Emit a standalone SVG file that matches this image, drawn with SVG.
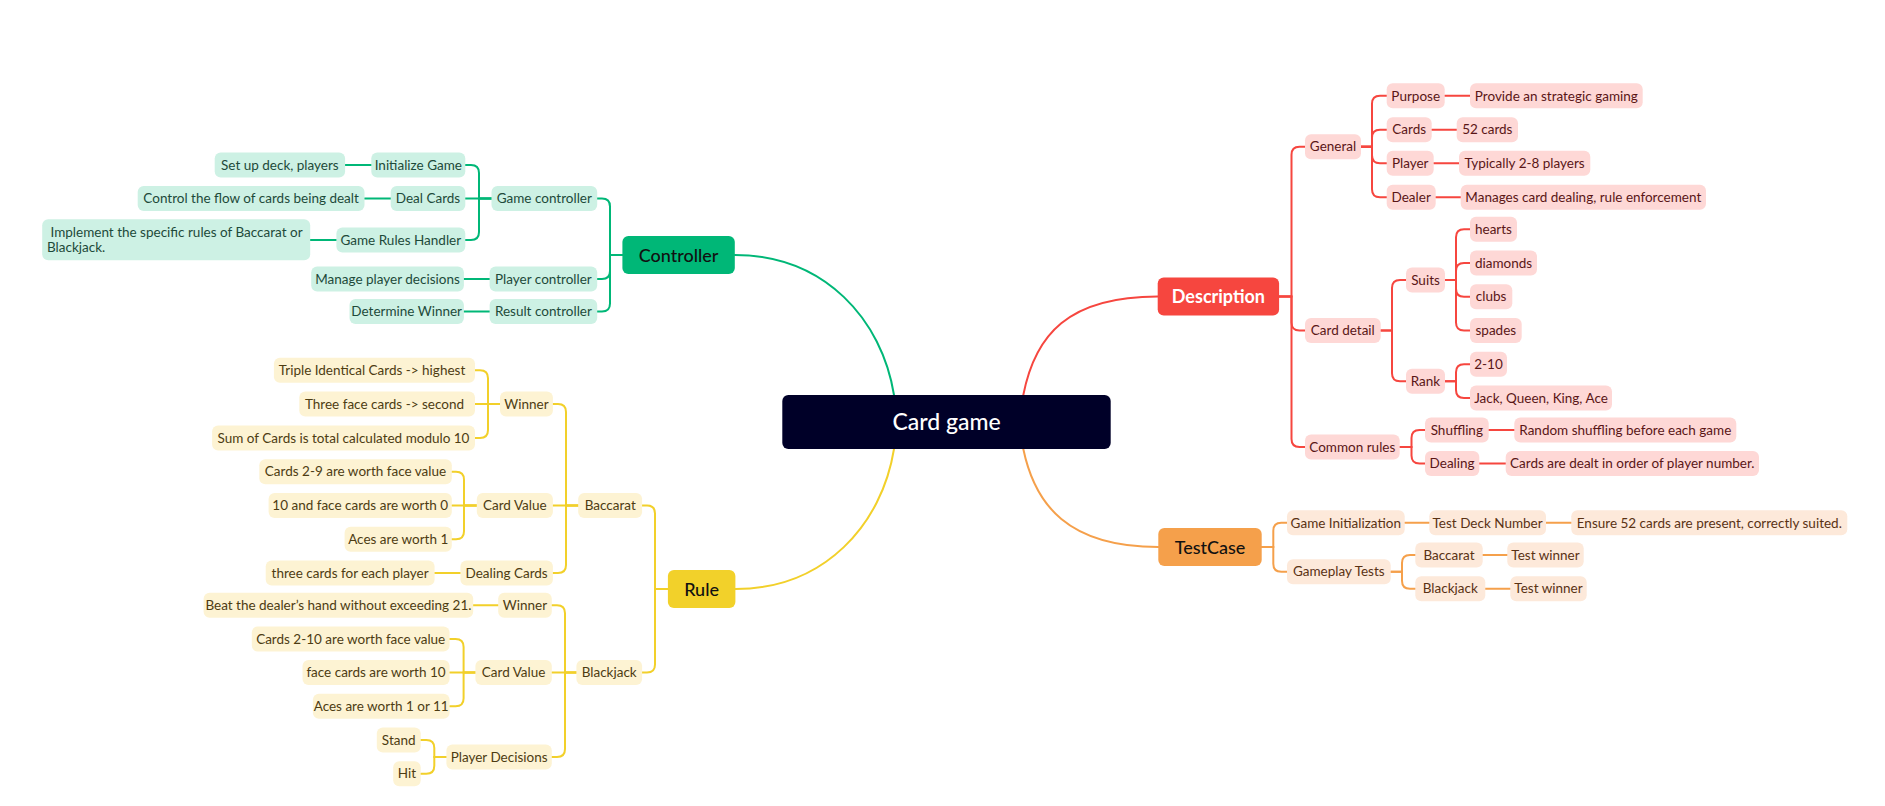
<svg xmlns="http://www.w3.org/2000/svg" width="1885" height="806" viewBox="0 0 1885 806">
<style>
text{font-family:Lato,"Open Sans","Liberation Sans",sans-serif;font-size:13.5px;text-anchor:middle}
.bg{fill:#cdf1e4}.tg{fill:#1d4a3a}
.br{fill:#fed8d6}.tr{fill:#5a1616}
.by{fill:#fdf3d3}.ty{fill:#4d3c12}
.bo{fill:#fde9da}.to{fill:#5a3214}
.main{font-size:18px;font-weight:500}
.cg{stroke:#00b777}.cr{stroke:#f6463f}.cy{stroke:#f2d02a}.co{stroke:#f5a04b}
#connectors path{fill:none;stroke-width:2;stroke-linecap:round}
</style>
<rect width="1885" height="806" fill="#ffffff"/>
<g id="connectors">
<path class="cg" d="M734.8,255 C825,255 882,320 894,395"/>
<path class="cy" d="M735.4,589 C825,589 882,524 894,449"/>
<path class="cr" d="M1157.7,296.4 C1068,296.4 1035,335 1023.3,395"/>
<path class="co" d="M1158.3,547 C1068,547 1035,505 1023.3,449"/>
<!-- red -->
<path class="cr" d="M1279,296.4 H1291.5 V154.7 Q1291.5,146.7 1299.5,146.7 H1305"/>
<path class="cr" d="M1279,296.4 H1291.5 V322.5 Q1291.5,330.5 1299.5,330.5 H1305"/>
<path class="cr" d="M1279,296.4 H1291.5 V439 Q1291.5,447 1299.5,447 H1305"/>
<path class="cr" d="M1361,146.7 H1372 V103.8 Q1372,95.8 1380,95.8 H1386.7"/>
<path class="cr" d="M1361,146.7 H1372 V137.7 Q1372,129.7 1380,129.7 H1386.7"/>
<path class="cr" d="M1361,146.7 H1372 V155.3 Q1372,163.3 1380,163.3 H1386.7"/>
<path class="cr" d="M1361,146.7 H1372 V189.2 Q1372,197.2 1380,197.2 H1386.7"/>
<path class="cr" d="M1444.7,95.8 H1470"/>
<path class="cr" d="M1431.7,129.7 H1456.7"/>
<path class="cr" d="M1433.7,163.3 H1459"/>
<path class="cr" d="M1435.7,197.2 H1460.7"/>
<path class="cr" d="M1380.7,330.5 H1392 V288 Q1392,280 1400,280 H1406"/>
<path class="cr" d="M1380.7,330.5 H1392 V373.3 Q1392,381.3 1400,381.3 H1406"/>
<path class="cr" d="M1445,280 H1456 V237.2 Q1456,229.2 1464,229.2 H1470"/>
<path class="cr" d="M1445,280 H1456 V271 Q1456,263 1464,263 H1470"/>
<path class="cr" d="M1445,280 H1456 V288.7 Q1456,296.7 1464,296.7 H1470"/>
<path class="cr" d="M1445,280 H1456 V322.5 Q1456,330.5 1464,330.5 H1470"/>
<path class="cr" d="M1445,381.3 H1456 V372.3 Q1456,364.3 1464,364.3 H1470"/>
<path class="cr" d="M1445,381.3 H1456 V390 Q1456,398 1464,398 H1470"/>
<path class="cr" d="M1399.7,447 H1411.5 V438 Q1411.5,430 1419.5,430 H1425"/>
<path class="cr" d="M1399.7,447 H1411.5 V455.5 Q1411.5,463.5 1419.5,463.5 H1425"/>
<path class="cr" d="M1488.7,430 H1514.3"/>
<path class="cr" d="M1479.3,463.5 H1505.7"/>
<!-- orange -->
<path class="co" d="M1261.7,547 H1273.3 V530.8 Q1273.3,522.8 1281.3,522.8 H1287"/>
<path class="co" d="M1261.7,547 H1273.3 V563.7 Q1273.3,571.7 1281.3,571.7 H1287"/>
<path class="co" d="M1404.7,522.8 H1429.3"/>
<path class="co" d="M1546,522.8 H1571.3"/>
<path class="co" d="M1390.7,571.7 H1402 V563 Q1402,555 1410,555 H1415.3"/>
<path class="co" d="M1390.7,571.7 H1402 V580.7 Q1402,588.7 1410,588.7 H1415.3"/>
<path class="co" d="M1482.7,555 H1507.3"/>
<path class="co" d="M1485.3,588.7 H1510.3"/>
<!-- green -->
<path class="cg" d="M622.4,255 H610 V206.5 Q610,198.5 602,198.5 H597.2"/>
<path class="cg" d="M622.4,255 H610 V271 Q610,279 602,279 H597.2"/>
<path class="cg" d="M622.4,255 H610 V303.5 Q610,311.5 602,311.5 H597.2"/>
<path class="cg" d="M491.5,198.5 H479 V173 Q479,165 471,165 H465.3"/>
<path class="cg" d="M491.5,198.5 H465.3"/>
<path class="cg" d="M491.5,198.5 H479 V232 Q479,240 471,240 H465.3"/>
<path class="cg" d="M371.3,165 H345.1"/>
<path class="cg" d="M390.7,198.5 H364.5"/>
<path class="cg" d="M336.4,240 H310.2"/>
<path class="cg" d="M489.6,279 H463.9"/>
<path class="cg" d="M489.6,311.5 H463.9"/>
<!-- yellow -->
<path class="cy" d="M667.9,589 H655 V513.5 Q655,505.5 647,505.5 H642.1"/>
<path class="cy" d="M667.9,589 H655 V664.5 Q655,672.5 647,672.5 H642.1"/>
<path class="cy" d="M578.2,505.5 H566 V412 Q566,404 558,404 H552.9"/>
<path class="cy" d="M578.2,505.5 H552.9"/>
<path class="cy" d="M578.2,505.5 H566 V565 Q566,573 558,573 H552.9"/>
<path class="cy" d="M500,404 H488 V378.3 Q488,370.3 480,370.3 H475"/>
<path class="cy" d="M500,404 H475"/>
<path class="cy" d="M500,404 H488 V430 Q488,438 480,438 H475"/>
<path class="cy" d="M476.8,505.5 H464 V479.7 Q464,471.7 456,471.7 H451.8"/>
<path class="cy" d="M476.8,505.5 H451.8"/>
<path class="cy" d="M476.8,505.5 H464 V531.3 Q464,539.3 456,539.3 H451.8"/>
<path class="cy" d="M460.4,573 H434.6"/>
<path class="cy" d="M576.4,672.5 H565 V613.2 Q565,605.2 557,605.2 H551.8"/>
<path class="cy" d="M576.4,672.5 H551.8"/>
<path class="cy" d="M576.4,672.5 H565 V749 Q565,757 557,757 H551.8"/>
<path class="cy" d="M498.2,605.2 H473.2"/>
<path class="cy" d="M475.4,672.5 H463.6 V647 Q463.6,639 455.6,639 H449.6"/>
<path class="cy" d="M475.4,672.5 H449.6"/>
<path class="cy" d="M475.4,672.5 H463.6 V698.3 Q463.6,706.3 455.6,706.3 H449.6"/>
<path class="cy" d="M446.4,757 H434.3 V748 Q434.3,740 426.3,740 H420.7"/>
<path class="cy" d="M446.4,757 H434.3 V765.7 Q434.3,773.7 426.3,773.7 H420.7"/>
</g>

<g id="n-root"><rect x="782.3" y="395" width="328.4" height="54" rx="6" fill="#000028"/><text x="946.5" y="430" fill="#ffffff" style="font-size:23px;font-weight:500">Card game</text></g>
<g id="n-controller"><rect x="622.4" y="236" width="112.4" height="38" rx="6" fill="#00b777"/><text class="main" x="678.6" y="261.5" fill="#111111">Controller</text></g>
<g id="n-rule"><rect x="667.9" y="570" width="67.5" height="38" rx="6" fill="#f2d12a"/><text class="main" x="701.6" y="595.5" fill="#111111">Rule</text></g>
<g id="n-description"><rect x="1157.7" y="277.5" width="121.4" height="38" rx="6" fill="#f6463f"/><text class="main" x="1218.4" y="302.5" fill="#ffffff" style="font-weight:700">Description</text></g>
<g id="n-testcase"><rect x="1158.3" y="528" width="103.4" height="38" rx="6" fill="#f5a04b"/><text class="main" x="1210" y="553.5" fill="#111111">TestCase</text></g>

<!-- Description subtree -->
<g id="n-general"><rect class="br" x="1305" y="134.2" width="56" height="25" rx="6"/><text class="tr" x="1333" y="151.4">General</text></g>
<g id="n-purpose"><rect class="br" x="1386.7" y="83.3" width="58" height="25" rx="6"/><text class="tr" x="1415.7" y="100.5">Purpose</text></g>
<g id="n-purpose-v"><rect class="br" x="1470" y="83.3" width="172.7" height="25" rx="6"/><text class="tr" x="1556.3" y="100.5">Provide an strategic gaming</text></g>
<g id="n-cards"><rect class="br" x="1386.7" y="117.2" width="45" height="25" rx="6"/><text class="tr" x="1409.2" y="134.4">Cards</text></g>
<g id="n-cards-v"><rect class="br" x="1456.7" y="117.2" width="61.3" height="25" rx="6"/><text class="tr" x="1487.3" y="134.4">52 cards</text></g>
<g id="n-player"><rect class="br" x="1386.7" y="150.8" width="47" height="25" rx="6"/><text class="tr" x="1410.2" y="168">Player</text></g>
<g id="n-player-v"><rect class="br" x="1459" y="150.8" width="131.3" height="25" rx="6"/><text class="tr" x="1524.6" y="168">Typically 2-8 players</text></g>
<g id="n-dealer"><rect class="br" x="1386.7" y="184.7" width="49" height="25" rx="6"/><text class="tr" x="1411.2" y="201.9">Dealer</text></g>
<g id="n-dealer-v"><rect class="br" x="1460.7" y="184.7" width="245.3" height="25" rx="6"/><text class="tr" x="1583.3" y="201.9">Manages card dealing, rule enforcement</text></g>
<g id="n-carddetail"><rect class="br" x="1305" y="318" width="75.7" height="25" rx="6"/><text class="tr" x="1342.8" y="335.2">Card detail</text></g>
<g id="n-suits"><rect class="br" x="1406" y="267.5" width="39" height="25" rx="6"/><text class="tr" x="1425.5" y="284.7">Suits</text></g>
<g id="n-hearts"><rect class="br" x="1470" y="216.7" width="47" height="25" rx="6"/><text class="tr" x="1493.5" y="233.9">hearts</text></g>
<g id="n-diamonds"><rect class="br" x="1470" y="250.5" width="67" height="25" rx="6"/><text class="tr" x="1503.5" y="267.7">diamonds</text></g>
<g id="n-clubs"><rect class="br" x="1470" y="284.2" width="42.3" height="25" rx="6"/><text class="tr" x="1491.1" y="301.4">clubs</text></g>
<g id="n-spades"><rect class="br" x="1470" y="318" width="51.7" height="25" rx="6"/><text class="tr" x="1495.8" y="335.2">spades</text></g>
<g id="n-rank"><rect class="br" x="1406" y="368.8" width="39" height="25" rx="6"/><text class="tr" x="1425.5" y="386">Rank</text></g>
<g id="n-rank-num"><rect class="br" x="1470" y="351.8" width="37" height="25" rx="6"/><text class="tr" x="1488.5" y="369">2-10</text></g>
<g id="n-rank-face"><rect class="br" x="1470" y="385.5" width="142" height="25" rx="6"/><text class="tr" x="1541" y="402.7">Jack, Queen, King, Ace</text></g>
<g id="n-commonrules"><rect class="br" x="1305" y="434.5" width="94.7" height="25" rx="6"/><text class="tr" x="1352.3" y="451.7">Common rules</text></g>
<g id="n-shuffling"><rect class="br" x="1425" y="417.5" width="63.7" height="25" rx="6"/><text class="tr" x="1456.8" y="434.7">Shuffling</text></g>
<g id="n-shuffling-v"><rect class="br" x="1514.3" y="417.5" width="222" height="25" rx="6"/><text class="tr" x="1625.3" y="434.7">Random shuffling before each game</text></g>
<g id="n-dealing"><rect class="br" x="1425" y="451" width="54.3" height="25" rx="6"/><text class="tr" x="1452.1" y="468.2">Dealing</text></g>
<g id="n-dealing-v"><rect class="br" x="1505.7" y="451" width="253.3" height="25" rx="6"/><text class="tr" x="1632.3" y="468.2">Cards are dealt in order of player number.</text></g>

<!-- TestCase subtree -->
<g id="n-gameinit"><rect class="bo" x="1287" y="510.3" width="117.7" height="25" rx="6"/><text class="to" x="1345.8" y="527.5">Game Initialization</text></g>
<g id="n-testdeck"><rect class="bo" x="1429.3" y="510.3" width="116.7" height="25" rx="6"/><text class="to" x="1487.6" y="527.5">Test Deck Number</text></g>
<g id="n-ensure"><rect class="bo" x="1571.3" y="510.3" width="276" height="25" rx="6"/><text class="to" x="1709.3" y="527.5">Ensure 52 cards are present, correctly suited.</text></g>
<g id="n-gameplay"><rect class="bo" x="1287" y="559.2" width="103.7" height="25" rx="6"/><text class="to" x="1338.8" y="576.4">Gameplay Tests</text></g>
<g id="n-tc-baccarat"><rect class="bo" x="1415.3" y="542.5" width="67.4" height="25" rx="6"/><text class="to" x="1449" y="559.7">Baccarat</text></g>
<g id="n-tc-baccarat-w"><rect class="bo" x="1507.3" y="542.5" width="76.4" height="25" rx="6"/><text class="to" x="1545.5" y="559.7">Test winner</text></g>
<g id="n-tc-blackjack"><rect class="bo" x="1415.3" y="576.2" width="70" height="25" rx="6"/><text class="to" x="1450.3" y="593.4">Blackjack</text></g>
<g id="n-tc-blackjack-w"><rect class="bo" x="1510.3" y="576.2" width="76.4" height="25" rx="6"/><text class="to" x="1548.5" y="593.4">Test winner</text></g>

<!-- Controller subtree -->
<g id="n-gamecontroller"><rect class="bg" x="491.5" y="186" width="105.7" height="25" rx="6"/><text class="tg" x="544.3" y="203.2">Game controller</text></g>
<g id="n-initgame"><rect class="bg" x="371.3" y="152.5" width="94" height="25" rx="6"/><text class="tg" x="418.3" y="169.7">Initialize Game</text></g>
<g id="n-initgame-v"><rect class="bg" x="214.7" y="152.5" width="130.4" height="25" rx="6"/><text class="tg" x="279.9" y="169.7">Set up deck, players</text></g>
<g id="n-dealcards"><rect class="bg" x="390.7" y="186" width="74.6" height="25" rx="6"/><text class="tg" x="428" y="203.2">Deal Cards</text></g>
<g id="n-dealcards-v"><rect class="bg" x="137.7" y="186" width="226.8" height="25" rx="6"/><text class="tg" x="251.1" y="203.2">Control the flow of cards being dealt</text></g>
<g id="n-ruleshandler"><rect class="bg" x="336.4" y="227.5" width="128.9" height="25" rx="6"/><text class="tg" x="400.8" y="244.7">Game Rules Handler</text></g>
<g id="n-ruleshandler-v"><rect class="bg" x="42.2" y="219.3" width="268" height="41" rx="6"/><text class="tg" x="50.5" y="237" style="text-anchor:start">Implement the specific rules of Baccarat or</text><text class="tg" x="47" y="252" style="text-anchor:start">Blackjack.</text></g>
<g id="n-playercontroller"><rect class="bg" x="489.6" y="266.5" width="107.6" height="25" rx="6"/><text class="tg" x="543.4" y="283.7">Player controller</text></g>
<g id="n-playercontroller-v"><rect class="bg" x="311.2" y="266.5" width="152.7" height="25" rx="6"/><text class="tg" x="387.5" y="283.7">Manage player decisions</text></g>
<g id="n-resultcontroller"><rect class="bg" x="489.6" y="299" width="107.6" height="25" rx="6"/><text class="tg" x="543.4" y="316.2">Result controller</text></g>
<g id="n-resultcontroller-v"><rect class="bg" x="349.5" y="299" width="114.4" height="25" rx="6"/><text class="tg" x="406.7" y="316.2">Determine Winner</text></g>

<!-- Rule subtree -->
<g id="n-baccarat"><rect class="by" x="578.2" y="493" width="63.9" height="25" rx="6"/><text class="ty" x="610.2" y="510.2">Baccarat</text></g>
<g id="n-bac-winner"><rect class="by" x="500" y="391.5" width="52.9" height="25" rx="6"/><text class="ty" x="526.5" y="408.7">Winner</text></g>
<g id="n-bac-triple"><rect class="by" x="273.9" y="357.8" width="201.1" height="25" rx="6"/><text class="ty" x="372" y="375">Triple Identical Cards -&gt; highest</text></g>
<g id="n-bac-three"><rect class="by" x="299.3" y="391.5" width="175.7" height="25" rx="6"/><text class="ty" x="384.5" y="408.7">Three face cards -&gt; second</text></g>
<g id="n-bac-sum"><rect class="by" x="212.1" y="425.5" width="262.9" height="25" rx="6"/><text class="ty" x="343.5" y="442.7">Sum of Cards is total calculated modulo 10</text></g>
<g id="n-bac-cardvalue"><rect class="by" x="476.8" y="493" width="76.1" height="25" rx="6"/><text class="ty" x="514.8" y="510.2">Card Value</text></g>
<g id="n-bac-cv1"><rect class="by" x="259.3" y="459.2" width="192.5" height="25" rx="6"/><text class="ty" x="355.5" y="476.4">Cards 2-9 are worth face value</text></g>
<g id="n-bac-cv2"><rect class="by" x="268.6" y="493" width="183.2" height="25" rx="6"/><text class="ty" x="360.2" y="510.2">10 and face cards are worth 0</text></g>
<g id="n-bac-cv3"><rect class="by" x="344.6" y="526.8" width="107.2" height="25" rx="6"/><text class="ty" x="398.2" y="544">Aces are worth 1</text></g>
<g id="n-bac-dealing"><rect class="by" x="460.4" y="560.5" width="92.5" height="25" rx="6"/><text class="ty" x="506.6" y="577.7">Dealing Cards</text></g>
<g id="n-bac-dealing-v"><rect class="by" x="265.7" y="560.5" width="168.9" height="25" rx="6"/><text class="ty" x="350.1" y="577.7">three cards for each player</text></g>
<g id="n-blackjack"><rect class="by" x="576.4" y="660" width="65.7" height="25" rx="6"/><text class="ty" x="609.2" y="677.2">Blackjack</text></g>
<g id="n-bj-winner"><rect class="by" x="498.2" y="592.7" width="53.6" height="25" rx="6"/><text class="ty" x="525" y="609.9">Winner</text></g>
<g id="n-bj-winner-v"><rect class="by" x="203.6" y="592.7" width="269.6" height="25" rx="6"/><text class="ty" x="338.4" y="609.9">Beat the dealer’s hand without exceeding 21.</text></g>
<g id="n-bj-cardvalue"><rect class="by" x="475.4" y="660" width="76.4" height="25" rx="6"/><text class="ty" x="513.6" y="677.2">Card Value</text></g>
<g id="n-bj-cv1"><rect class="by" x="251.8" y="626.5" width="197.8" height="25" rx="6"/><text class="ty" x="350.7" y="643.7">Cards 2-10 are worth face value</text></g>
<g id="n-bj-cv2"><rect class="by" x="302.5" y="660" width="147.1" height="25" rx="6"/><text class="ty" x="376" y="677.2">face cards are worth 10</text></g>
<g id="n-bj-cv3"><rect class="by" x="312.9" y="693.8" width="136.7" height="25" rx="6"/><text class="ty" x="381.2" y="711">Aces are worth 1 or 11</text></g>
<g id="n-bj-decisions"><rect class="by" x="446.4" y="744.5" width="105.4" height="25" rx="6"/><text class="ty" x="499.1" y="761.7">Player Decisions</text></g>
<g id="n-bj-stand"><rect class="by" x="376.8" y="727.5" width="43.9" height="25" rx="6"/><text class="ty" x="398.7" y="744.7">Stand</text></g>
<g id="n-bj-hit"><rect class="by" x="393.2" y="761.2" width="27.5" height="25" rx="6"/><text class="ty" x="407" y="778.4">Hit</text></g>
</svg>
